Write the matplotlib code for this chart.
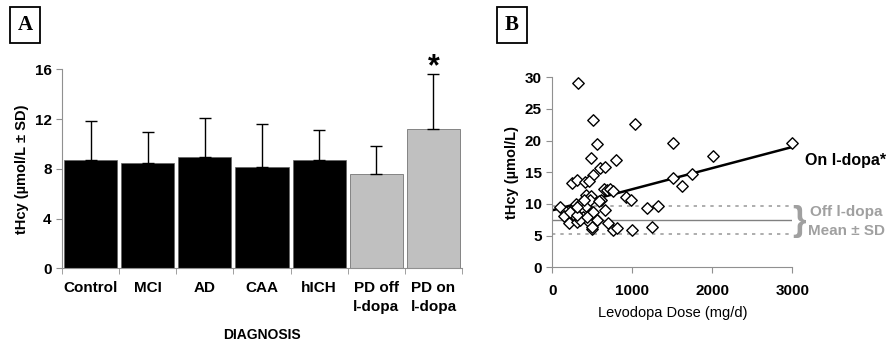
import matplotlib.pyplot as plt
import numpy as np

# panel A data
groups = ["Control", "MCI", "AD", "CAA", "hICH", "PD off\nl-dopa", "PD on\nl-dopa"]
means = [8.7, 8.45, 8.92, 8.17, 8.7, 7.55, 11.22]
sds = [3.17, 2.48, 3.21, 3.43, 2.42, 2.28, 4.42]
is_pd = [False, False, False, False, False, True, True]

# panel B data (levodopa dose mg/d, tHcy umol/L)
dose = [325, 504, 1037, 1504, 2996, 558, 2012, 487, 800, 596, 658, 504, 1750, 1504,
        1621, 246, 304, 404, 458, 650, 679, 721, 758, 421, 487, 604, 921, 983, 1325,
        1183, 96, 175, 142, 204, 296, 296, 296, 296, 304, 363, 396, 425, 467, 512,
        496, 558, 654, 696, 763, 804, 996, 1250, 458, 388, 346, 221, 310, 400, 588,
        430, 555, 500, 310]
thcy = [29.05, 23.2, 22.7, 19.7, 19.7, 19.5, 17.6, 17.2, 16.9, 15.7, 15.9, 14.6, 14.8, 14.05,
        12.8, 13.3, 13.8, 13.5, 13.6, 12.4, 12.2, 12.4, 12.1, 11.4, 11.3, 10.6, 11.05, 10.7, 9.7,
        9.3, 9.5, 8.7, 8.1, 7.05, 9.95, 9.2, 8.5, 7.9, 7.2, 10.2, 9.05, 9.7, 10.6, 8.8,
        6.05, 7.4, 9.05, 7.05, 5.9, 6.25, 5.9, 6.3, 7.2, 8.0, 7.5, 8.8, 8.2, 10.6, 10.4,
        8.0, 7.5, 6.3, 9.5]
fit_x = [0, 3000]
fit_y = [9.0, 19.0]
off_mean = 7.5
off_sd = 2.25

gray_txt = "#a0a0a0"
spine_c = "#909090"

plt.rcParams['font.family'] = ['Liberation Sans', 'DejaVu Sans']

fig = plt.figure(figsize=(8.89, 3.42), dpi=100)

# ---- panel A ----
axA = fig.add_axes([0.0697, 0.2155, 0.45, 0.5815])
xs = np.arange(len(groups))
cols = ["#c0c0c0" if p else "black" for p in is_pd]
axA.bar(xs, means, width=0.93, color=cols, edgecolor="#606060", linewidth=0.5, zorder=2)
axA.errorbar(xs, means, yerr=[np.zeros(len(sds)), sds], fmt="none", ecolor="black",
             elinewidth=1, capsize=4, capthick=1, zorder=3)
axA.set_xlim(-0.5, 6.5)
axA.set_ylim(0, 16)
axA.set_yticks([0, 4, 8, 12, 16])
axA.set_xticks(xs)
axA.set_xticklabels(groups, fontsize=11, fontweight="bold", linespacing=1.5)
axA.set_xticks(np.arange(-0.5, 7, 1), minor=True)
axA.tick_params(axis="x", which="major", length=0, pad=9)
axA.tick_params(axis="x", which="minor", length=4, color=spine_c)
axA.tick_params(axis="y", length=4, color=spine_c, labelsize=11)
for lab in axA.get_yticklabels():
    lab.set_fontweight("bold")
for s in ["top", "right"]:
    axA.spines[s].set_visible(False)
for s in ["left", "bottom"]:
    axA.spines[s].set_color(spine_c)
axA.set_ylabel("tHcy (µmol/L ± SD)", fontsize=10.5, fontweight="bold", labelpad=4)
axA.set_xlabel("DIAGNOSIS", fontsize=10, fontweight="bold", labelpad=10)
axA.text(6, 15.55, "*", ha="center", va="baseline", fontsize=22, fontweight="bold")

# ---- panel B ----
axB = fig.add_axes([0.6213, 0.2184, 0.27, 0.5556])
axB.plot([0, 3000], [off_mean + off_sd] * 2, color=gray_txt, lw=1.2, ls=(0, (2, 3)), zorder=1)
axB.plot([0, 3000], [off_mean - off_sd] * 2, color=gray_txt, lw=1.2, ls=(0, (2, 3)), zorder=1)
axB.plot([0, 3000], [off_mean] * 2, color="#808080", lw=1, zorder=1)
axB.plot(fit_x, fit_y, color="black", lw=1.8, zorder=2)
axB.scatter(dose, thcy, marker="D", s=34, facecolor="white", edgecolor="black",
            linewidth=1, zorder=3, clip_on=False)
axB.set_xlim(0, 3000)
axB.set_ylim(0, 30)
axB.set_xticks([0, 1000, 2000, 3000])
axB.set_yticks([0, 5, 10, 15, 20, 25, 30])
axB.tick_params(length=4, color=spine_c, labelsize=11)
axB.tick_params(axis="x", pad=8)
for lab in axB.get_xticklabels() + axB.get_yticklabels():
    lab.set_fontweight("bold")
for s in ["top", "right"]:
    axB.spines[s].set_visible(False)
for s in ["left", "bottom"]:
    axB.spines[s].set_color(spine_c)
axB.set_ylabel("tHcy (µmol/L)", fontsize=10.5, fontweight="bold", labelpad=4)
axB.set_xlabel("Levodopa Dose (mg/d)", fontsize=10.5, labelpad=6)

fig.text(0.905, 1 - 160 / 342, "On l-dopa*", fontsize=11.5, fontweight="bold", va="center")
fig.text(0.8915, 1 - 222 / 342, "}", fontsize=25, color=gray_txt, va="center", fontweight="bold")
fig.text(0.911, 1 - 212 / 342, "Off l-dopa", fontsize=11, fontweight="bold", color=gray_txt, va="center")
fig.text(0.909, 1 - 231 / 342, "Mean ± SD", fontsize=11, fontweight="bold", color=gray_txt, va="center")

# panel letters in boxes
for lx, letter in [(25 / 889, "A"), (512 / 889, "B")]:
    fig.text(lx, 1 - 25 / 342, letter, fontsize=15, fontweight="bold", family="Liberation Serif",
             ha="center", va="center",
             bbox=dict(boxstyle="square,pad=0.38", facecolor="white", edgecolor="black", linewidth=1.3))

fig.savefig("out.png", dpi=100)
